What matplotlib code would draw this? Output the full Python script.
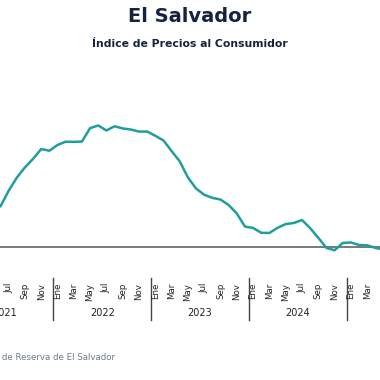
import matplotlib
matplotlib.use("Agg")
import matplotlib.pyplot as plt
import matplotlib.transforms as mtransforms

# indice de mes, 0 = Ene 2022
months = list(range(-7, 41))
# inflacion interanual (%), Jun 2021 .. May 2025
ipc = [2.60, 3.60, 4.44, 5.10, 5.65, 6.28, 6.17,
       6.54, 6.75, 6.74, 6.76, 7.62, 7.79, 7.47, 7.74, 7.60, 7.53, 7.40, 7.40,
       7.13, 6.83, 6.15, 5.49, 4.46, 3.75, 3.35, 3.15, 3.04, 2.69, 2.15, 1.31,
       1.22, 0.91, 0.90, 1.23, 1.47, 1.54, 1.73, 1.21, 0.59, -0.06, -0.21, 0.26,
       0.29, 0.13, 0.11, -0.06, -0.16]
month_names = ["Ene", "Feb", "Mar", "Abr", "May", "Jun",
               "Jul", "Ago", "Sep", "Oct", "Nov", "Dic"]
years = [2021, 2022, 2023, 2024, 2025]

navy = "#14233f"
teal = "#1f9e9c"

W = 380
fig = plt.figure(figsize=(3.8, 3.8), dpi=100)
px = 8.15  # pixeles por mes
x0 = -57.5 / px
x1 = (W - 57.5) / px
ax = fig.add_axes([0, (380 - 255) / 380, 1, 195 / 380])
ax.set_xlim(x0, x1)
ax.set_ylim(-8 / 15.6, 187 / 15.6)
ax.plot(months, ipc, color=teal, lw=1.8, solid_joinstyle="round",
        solid_capstyle="round", zorder=3)
ax.axhline(0, color="#555555", lw=1.1, zorder=2)
for s in ax.spines.values():
    s.set_visible(False)
ax.set_xticks([])
ax.set_yticks([])

tr = mtransforms.blended_transform_factory(ax.transData, fig.transFigure)


def fy(p):
    return 1 - p / 380


for y in years:
    base = (y - 2022) * 12
    for k in range(0, 12, 2):
        m = base + k
        if m < x0 + 0.5 or m > x1 - 0.5:
            continue
        ax.text(m, fy(283), month_names[k], transform=tr, rotation=90,
                ha="center", va="top", fontsize=6.2, color="#222222",
                family="DejaVu Sans")
    if base + 5.5 < x1:
        ax.text(base + 5.5, fy(313), str(y), transform=tr, ha="center",
                va="center", fontsize=7, color="#222222",
                family="DejaVu Sans", clip_on=False)
    if x0 < base - 0.5 < x1:
        ax.plot([base - 0.5, base - 0.5], [fy(278), fy(320)], transform=tr,
                color="#444444", lw=1.0, clip_on=False)

fig.text(0.5, fy(17), "El Salvador", ha="center", va="center",
         fontsize=14, fontweight="bold", color=navy, family="DejaVu Sans")
fig.text(0.5, fy(44), "Índice de Precios al Consumidor", ha="center",
         va="center", fontsize=7.8, fontweight="bold", color=navy,
         family="DejaVu Sans")
fig.text(115 / W, fy(358), "Fuente: Banco Central de Reserva de El Salvador",
         ha="right", va="center", fontsize=6.2, color="#6b7a90",
         family="DejaVu Sans")

fig.savefig("out.png", dpi=100)
